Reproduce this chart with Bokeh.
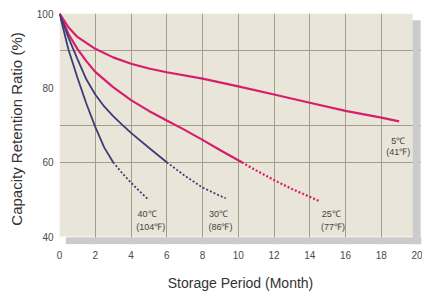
from bokeh.plotting import figure
from bokeh.models import Range1d, FixedTicker, BoxAnnotation, ColumnDataSource
from bokeh.core.properties import value
from bokeh.embed import file_html
from bokeh.resources import INLINE

# ---- data ----
x_ticks = [0, 2, 4, 6, 8, 10, 12, 14, 16, 18, 20]
y_ticks = [40, 60, 80, 100]
x_grid = [2, 4, 6, 8, 10, 12, 14, 16, 18]
y_grid = [60, 70, 90]

months_5c = [0, 0.5, 1, 2, 3, 4, 5, 6, 8, 10, 12, 14, 16, 18, 19]
ratio_5c = [100, 96.3, 93.7, 90.5, 88.2, 86.5, 85.2, 84.2, 82.5, 80.4, 78.2, 76.0, 73.8, 72.0, 71.0]

months_25c = [0, 0.5, 1, 1.5, 2, 3, 4, 5, 6, 7, 8, 9, 10.2]
ratio_25c = [100, 94.5, 90.5, 87.2, 84.3, 80.2, 76.7, 73.8, 71.2, 68.7, 66.0, 63.2, 60.0]
months_25c_dash = [10.2, 11, 12, 13, 14, 14.5]
ratio_25c_dash = [60.0, 57.8, 55.2, 52.8, 50.7, 49.6]

months_30c = [0, 0.5, 1, 1.5, 2, 2.5, 3, 3.5, 4, 5, 6]
ratio_30c = [100, 93.5, 87.8, 82.3, 78.2, 75.0, 72.4, 70.1, 67.9, 63.9, 60.0]
months_30c_dash = [6, 7, 8, 9, 9.3]
ratio_30c_dash = [60.0, 56.4, 53.2, 50.9, 50.3]

months_40c = [0, 0.5, 1, 1.5, 2, 2.5, 3]
ratio_40c = [100, 90.3, 82.8, 75.8, 69.5, 64.0, 60.0]
months_40c_dash = [3, 3.5, 4, 4.5, 5]
ratio_40c_dash = [60.0, 57.1, 54.5, 52.1, 49.8]

label_text = ["40\u2103", "(104\u2109)", "30\u2103", "(86\u2109)",
              "25\u2103", "(77\u2109)", "5\u2103", "(41\u2109)"]
label_x = [4.9, 5.1, 8.9, 9.0, 15.2, 15.3, 18.95, 18.95]
label_y = [46.1, 42.7, 46.1, 42.7, 46.1, 42.7, 65.6, 62.7]

# ---- styling ----
PINK = "#d61e6d"
NAVY = "#3e3c78"
BEIGE = "#e9e5d8"
GRID = "#a29e8e"
SHADOW = "#cbcbcb"
FONT = "Liberation Sans"

p = figure(width=422, height=293, output_backend="svg", toolbar_location=None,
           x_range=Range1d(0, 20.25), y_range=Range1d(37.87, 100),
           min_border_left=59, min_border_right=1, min_border_top=13,
           min_border_bottom=47)
p.background_fill_color = "white"
p.border_fill_color = "white"
p.outline_line_color = None

# plotting-area background and drop shadow
p.add_layout(BoxAnnotation(left=0, right=19.75, bottom=40, top=100,
                           fill_color=BEIGE, fill_alpha=1, line_color=None,
                           level="image"))
p.add_layout(BoxAnnotation(left=0.35, right=20.25, bottom=37.95, top=39.8,
                           fill_color=SHADOW, fill_alpha=1, line_color=None))
p.add_layout(BoxAnnotation(left=19.75, right=20.2, bottom=37.95, top=98.2,
                           fill_color=SHADOW, fill_alpha=1, line_color=None))

# grid
p.xgrid.ticker = FixedTicker(ticks=x_grid)
p.ygrid.ticker = FixedTicker(ticks=y_grid)
for g in (p.xgrid, p.ygrid):
    g.grid_line_color = GRID
    g.grid_line_width = 1

# axes
p.xaxis.ticker = FixedTicker(ticks=x_ticks)
p.yaxis.ticker = FixedTicker(ticks=y_ticks)
for ax in (p.xaxis, p.yaxis):
    ax.axis_line_color = None
    ax.major_tick_line_color = None
    ax.minor_tick_line_color = None
    ax.major_tick_out = 0
    ax.major_tick_in = 0
    ax.major_label_text_font = FONT
    ax.major_label_text_font_size = "10px"
    ax.major_label_text_color = "#4a4a4a"
    ax.axis_label_text_font = FONT
    ax.axis_label_text_font_style = "normal"
    ax.axis_label_text_color = "#333333"
p.xaxis.axis_label = "Storage Period (Month)"
p.yaxis.axis_label = "Capacity Retention Ratio (%)"
p.xaxis.axis_label_text_font_size = "14px"
p.yaxis.axis_label_text_font_size = "15px"
p.xaxis.major_label_standoff = 6
p.xaxis.axis_label_standoff = 13
p.yaxis.major_label_standoff = 6
p.yaxis.axis_label_standoff = 9

# curves
p.line(months_5c, ratio_5c, line_color=PINK, line_width=2.2)
p.line(months_25c, ratio_25c, line_color=PINK, line_width=2.2)
p.line(months_25c_dash, ratio_25c_dash, line_color=PINK, line_width=2.2, line_dash="2 2")
p.line(months_30c, ratio_30c, line_color=NAVY, line_width=1.8)
p.line(months_30c_dash, ratio_30c_dash, line_color=NAVY, line_width=1.8, line_dash="2 2")
p.line(months_40c, ratio_40c, line_color=NAVY, line_width=1.8)
p.line(months_40c_dash, ratio_40c_dash, line_color=NAVY, line_width=1.8, line_dash="2 2")

src = ColumnDataSource(dict(x=label_x, y=label_y, t=label_text))
p.text(x="x", y="y", text="t", source=src, text_align="center",
       text_baseline="middle", text_font=value(FONT), text_font_size="9px",
       text_color="#444444")

open("out.html", "w").write(file_html(p, INLINE))
